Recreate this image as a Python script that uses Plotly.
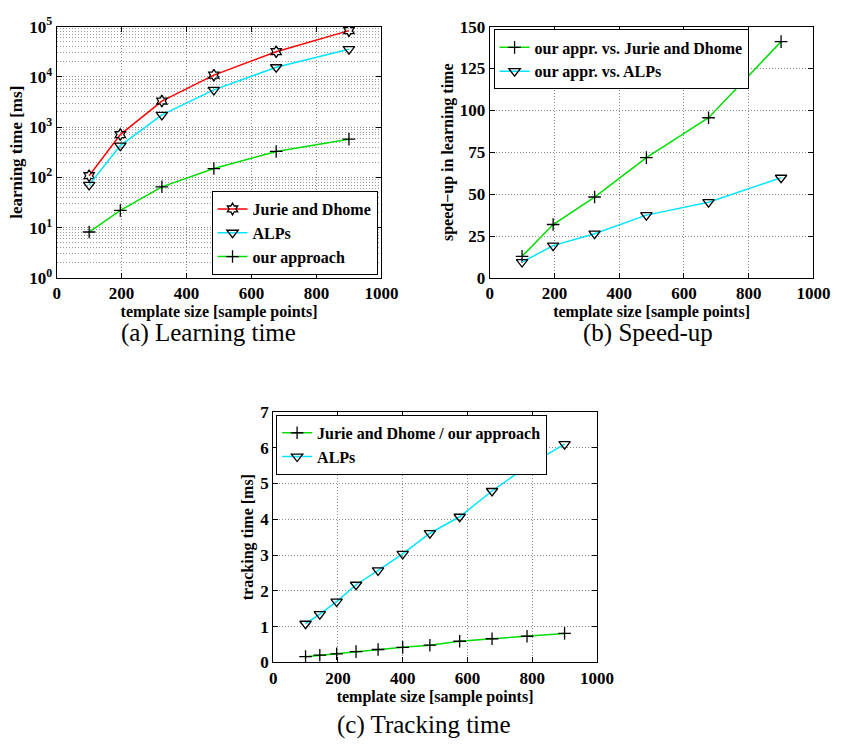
import plotly.graph_objects as go

# ---- data ----
x_learn = [100, 196, 324, 484, 676, 900]
learn_jurie = [108, 710, 3300, 10800, 31600, 83000]
learn_alps = [71, 430, 1750, 5500, 15500, 35500]
learn_ours = [8.2, 22, 65, 150, 328, 576]

speed_jurie = [12.9, 31.9, 48.3, 71.8, 95.6, 141]
speed_alps = [9.5, 19.3, 26.4, 37.5, 45.2, 59.8]

x_track = [100, 144, 196, 256, 324, 400, 484, 576, 676, 784, 900]
track_ours = [0.16, 0.20, 0.24, 0.30, 0.36, 0.42, 0.48, 0.59, 0.66, 0.73, 0.81]
track_alps = [1.08, 1.35, 1.70, 2.17, 2.57, 3.03, 3.61, 4.07, 4.79, 5.48, 6.10]

x_ticks = [0, 200, 400, 600, 800, 1000]
log_ticks = [1, 10, 100, 1000, 10000, 100000]
log_ticktext = ["10<sup>0</sup>", "10<sup>1</sup>", "10<sup>2</sup>", "10<sup>3</sup>", "10<sup>4</sup>", "10<sup>5</sup>"]
speed_ticks = [0, 25, 50, 75, 100, 125, 150]
track_ticks = [0, 1, 2, 3, 4, 5, 6, 7]

FONT = "Liberation Serif"
W, H = 849, 751

fig = go.Figure()

def mk(x, y, name, color, symbol, xa, ya, legend, msize=10):
    return go.Scatter(
        x=x, y=y, name="<b>%s</b>" % name, mode="lines+markers",
        line=dict(color=color, width=1.5),
        marker=dict(symbol=symbol, size=msize, color="black",
                    line=dict(color="black", width=1.3)),
        xaxis=xa, yaxis=ya, legend=legend)

fig.add_trace(mk(x_learn, learn_jurie, "Jurie and Dhome", "#ff0000", "hexagram-open", "x", "y", "legend", 9))
fig.add_trace(mk(x_learn, learn_alps, "ALPs", "#00e5ff", "triangle-down-open", "x", "y", "legend", 10))
fig.add_trace(mk(x_learn, learn_ours, "our approach", "#00dd00", "cross-thin-open", "x", "y", "legend", 9))

fig.add_trace(mk(x_learn, speed_jurie, "our appr. vs. Jurie and Dhome", "#00dd00", "cross-thin-open", "x2", "y2", "legend2", 9))
fig.add_trace(mk(x_learn, speed_alps, "our appr. vs. ALPs", "#00e5ff", "triangle-down-open", "x2", "y2", "legend2", 10))

fig.add_trace(mk(x_track, track_ours, "Jurie and Dhome / our approach", "#00dd00", "cross-thin-open", "x3", "y3", "legend3", 9))
fig.add_trace(mk(x_track, track_alps, "ALPs", "#00e5ff", "triangle-down-open", "x3", "y3", "legend3", 10))

tickfont = dict(family=FONT, size=17, color="black", weight="bold")
titlefont = dict(family=FONT, size=16, color="black")
GRID = dict(showgrid=True, gridcolor="#8a8a8a", griddash="1px,2px", gridwidth=1)

def bold(vals):
    return ["<b>%s</b>" % v for v in vals]

def xax(domain, anchor):
    return dict(domain=domain, anchor=anchor, range=[0, 1000],
                tickvals=x_ticks, ticktext=bold(x_ticks),
                showline=True, linecolor="black", linewidth=1, mirror="allticks",
                ticks="inside", ticklen=5, tickcolor="black",
                zeroline=False, tickfont=tickfont, **GRID,
                title=dict(text="<b>template size [sample points]</b>", font=titlefont, standoff=0))

def yax_common(domain, anchor):
    return dict(domain=domain, anchor=anchor,
                showline=True, linecolor="black", linewidth=1, mirror="allticks",
                ticks="inside", ticklen=5, tickcolor="black",
                zeroline=False, tickfont=tickfont, **GRID)

ya_dom = [1 - 274 / H, 1 - 15 / H]
fig.update_layout(
    width=W, height=H, margin=dict(l=0, r=0, t=0, b=0),
    paper_bgcolor="white", plot_bgcolor="white",
    font=dict(family=FONT, color="black"),
    xaxis=xax([54 / W, 387 / W], "y"),
    yaxis=dict(**yax_common(ya_dom, "x"), type="log", range=[0, 5],
               tickvals=log_ticks, ticktext=bold(log_ticktext),
               minor=dict(showgrid=True, gridcolor="#9a9a9a", griddash="1px,2px", ticks="", dtick="D1"),
               title=dict(text="<b>learning time [ms]</b>", font=dict(family=FONT, size=17, color="black"), standoff=2)),
    xaxis2=xax([498 / W, 830 / W], "y2"),
    yaxis2=dict(**yax_common(ya_dom, "x2"), range=[0, 150],
                tickvals=speed_ticks, ticktext=bold(speed_ticks),
                title=dict(text="<b>speed\u2212up in learning time</b>", font=titlefont, standoff=2)),
    xaxis3=xax([276 / W, 608 / W], "y3"),
    yaxis3=dict(**yax_common([1 - 670 / H, 1 - 412 / H], "x3"), range=[0, 7],
                tickvals=track_ticks, ticktext=bold(track_ticks),
                title=dict(text="<b>tracking time [ms]</b>", font=titlefont, standoff=2)),
    showlegend=True,
)

legfont = dict(family=FONT, size=16, color="black")
common_leg = dict(bgcolor="white", bordercolor="black", borderwidth=1, font=legfont,
                  tracegroupgap=0, itemwidth=30)
fig.update_layout(
    legend=dict(**common_leg, x=383 / W, xanchor="right", y=1 - 271 / H, yanchor="bottom"),
    legend2=dict(**common_leg, x=502 / W, xanchor="left", y=1 - 18 / H, yanchor="top"),
    legend3=dict(**common_leg, x=279 / W, xanchor="left", y=1 - 415 / H, yanchor="top"),
)

capfont = dict(family=FONT, size=25, color="black")
for txt, cx, cy in [("(a) Learning time", 210, 331), ("(b) Speed-up", 660, 331), ("(c) Tracking time", 431, 735)]:
    fig.add_annotation(text=txt, x=cx / W, y=1 - cy / H, xref="paper", yref="paper",
                       showarrow=False, font=capfont, xanchor="center", yanchor="middle")

fig.write_html("out.html")
